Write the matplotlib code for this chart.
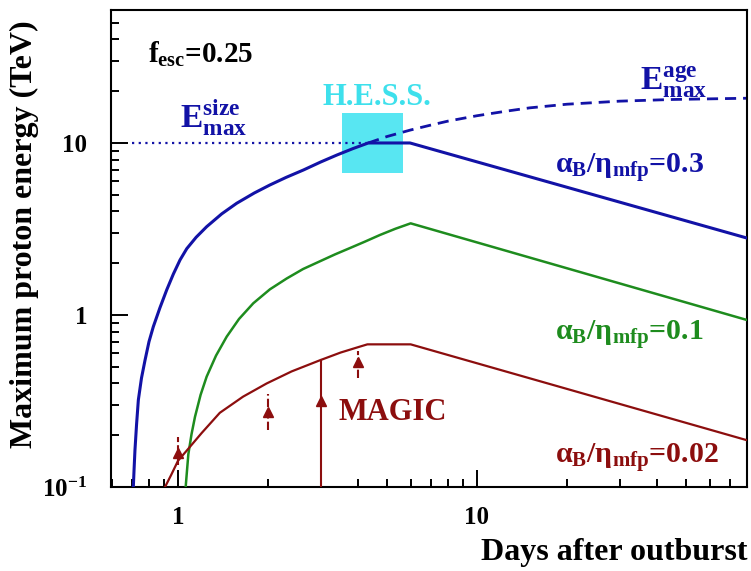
import matplotlib.pyplot as plt
from matplotlib.ticker import FixedLocator, NullFormatter

plt.rcParams['font.family'] = ['Liberation Serif', 'DejaVu Serif']
plt.rcParams['font.weight'] = 'bold'
plt.rcParams['mathtext.fontset'] = 'custom'
plt.rcParams['mathtext.rm'] = 'Liberation Serif:bold'
plt.rcParams['mathtext.it'] = 'Liberation Serif:bold'
plt.rcParams['mathtext.bf'] = 'Liberation Serif:bold'
plt.rcParams['mathtext.default'] = 'rm'

# alpha_B/eta_mfp = 0.3 (blue)
t_03 = [0.709, 0.713, 0.718, 0.727, 0.737, 0.755, 0.776, 0.80, 0.827, 0.87, 0.917, 0.965,
        1.016, 1.07, 1.15, 1.247, 1.40, 1.571, 1.80, 2.03, 2.30, 2.63, 3.00, 3.40, 3.85,
        4.33, 5.97, 80]
E_03 = [0.1, 0.126, 0.164, 0.232, 0.321, 0.43, 0.547, 0.70, 0.855, 1.10, 1.40, 1.73,
        2.09, 2.43, 2.83, 3.26, 3.87, 4.46, 5.12, 5.70, 6.31, 6.97, 7.75, 8.51, 9.28,
        10.0, 10.0, 2.8]
# alpha_B/eta_mfp = 0.1 (green)
t_01 = [1.061, 1.07, 1.083, 1.11, 1.14, 1.19, 1.247, 1.34, 1.455, 1.60, 1.786, 2.03,
        2.31, 2.62, 2.98, 3.35, 3.76, 4.22, 4.74, 5.33, 6.0, 80]
E_01 = [0.1, 0.12, 0.155, 0.203, 0.256, 0.343, 0.438, 0.58, 0.748, 0.948, 1.17, 1.41,
        1.63, 1.85, 2.05, 2.25, 2.45, 2.67, 2.92, 3.17, 3.41, 0.935]
# alpha_B/eta_mfp = 0.02 (dark red)
t_002 = [0.905, 0.95, 1.0, 1.08, 1.2, 1.38, 1.65, 1.98, 2.4, 2.98, 3.5, 4.06, 4.3, 6.0, 80]
E_002 = [0.1, 0.118, 0.142, 0.166, 0.206, 0.27, 0.335, 0.40, 0.47, 0.545, 0.605, 0.655,
         0.675, 0.675, 0.187]
# E_max^size (dotted) and E_max^age (dashed)
t_size = [0.70, 4.33]
E_size = [10.0, 10.0]
t_age = [4.33, 5.0, 6.0, 7.0, 8.0, 10.0, 12.5, 15.0, 20.0, 30.0, 45.0, 80.0]
E_age = [10.0, 10.9, 11.9, 12.7, 13.4, 14.4, 15.3, 16.0, 16.8, 17.5, 17.9, 18.2]
# H.E.S.S. box
hess_t = [3.54, 5.66]
hess_E = [6.7, 15.0]
# MAGIC lower limits
magic_t = [1, 2, 3, 4]
magic_lo = [0.135, 0.215, 0.1, 0.43]
magic_hi = [0.195, 0.345, 0.547, 0.62]
magic_head = [0.158, 0.273, 0.316, 0.533]

blue = '#1212A6'
green = '#1E8C1E'
red = '#8C0E0E'
cyan = '#58E6F2'

fig = plt.figure(figsize=(7.51, 5.71), dpi=100)
ax = fig.add_axes([0.1478, 0.1471, 0.8469, 0.8354])
ax.set_xscale('log')
ax.set_yscale('log')
ax.set_xlim(0.597, 80)
ax.set_ylim(0.1, 59.3)

ax.fill_between(hess_t, hess_E[0], hess_E[1], color=cyan, lw=0, zorder=1)
ax.plot(t_size, E_size, color=blue, lw=1.6, ls=(0, (1, 2)), zorder=2)
ax.plot(t_age, E_age, color=blue, lw=2.0, ls=(0, (4, 2.5)), zorder=2)
ax.plot(t_03, E_03, color=blue, lw=2.2, zorder=3)
ax.plot(t_01, E_01, color=green, lw=1.8, zorder=3)
ax.plot(t_002, E_002, color=red, lw=1.6, zorder=3)

for t, lo, hi, hd in zip(magic_t, magic_lo, magic_hi, magic_head):
    ls = '-' if lo <= 0.1 else (0, (4, 1.5))
    ax.plot([t, t], [lo, hi], color=red, lw=1.5, ls=ls, zorder=4)
    ax.plot(t, hd, marker='^', color=red, ms=7, zorder=4)

# ticks
ax.xaxis.set_major_locator(FixedLocator([1, 10]))
ax.xaxis.set_minor_locator(FixedLocator([0.6, 0.7, 0.8, 0.9, 2, 3, 4, 5, 6, 7, 8, 9,
                                         20, 30, 40, 50, 60, 70, 80]))
ax.set_xticklabels(['1', '10'])
ax.yaxis.set_major_locator(FixedLocator([0.1, 1, 10]))
ax.yaxis.set_minor_locator(FixedLocator([0.2, 0.3, 0.4, 0.5, 0.6, 0.7, 0.8, 0.9,
                                         2, 3, 4, 5, 6, 7, 8, 9, 20, 30, 40, 50]))
ax.set_yticklabels([r'$10^{-1}$', '1', '10'])
ax.xaxis.set_minor_formatter(NullFormatter())
ax.yaxis.set_minor_formatter(NullFormatter())
ax.tick_params(which='both', direction='in', width=1.4, labelsize=18,
               top=False, right=False)
ax.tick_params(which='major', length=12)
ax.tick_params(which='minor', length=6)
ax.tick_params(axis='y', pad=17)
ax.tick_params(axis='x', pad=14)
for s in ax.spines.values():
    s.set_linewidth(1.5)

fig.text(0.033, 0.59, 'Maximum proton energy (TeV)', rotation=90, fontsize=23,
         fontweight='bold', ha='center', va='center')
fig.text(0.9947, 0.033, 'Days after outburst', fontsize=23, fontweight='bold',
         ha='right', va='center')

ax.text(0.058, 0.889, r'$f_{esc}$=0.25', transform=ax.transAxes, fontsize=21,
        va='baseline', ha='left')
ax.text(0.1085, 0.755, r'$E_{max}^{size}$', transform=ax.transAxes, fontsize=24,
        va='baseline', ha='left', color=blue)
ax.text(0.832, 0.832, r'$E_{max}^{age}$', transform=ax.transAxes, fontsize=24,
        va='baseline', ha='left', color=blue)
ax.text(0.418, 0.801, 'H.E.S.S.', transform=ax.transAxes, fontsize=22,
        va='baseline', ha='center', color='#3EE0EC')
ax.text(0.698, 0.658, r'$α_{B}/η_{mfp}$=0.3', transform=ax.transAxes, fontsize=21.5,
        va='baseline', ha='left', color=blue)
ax.text(0.698, 0.308, r'$α_{B}/η_{mfp}$=0.1', transform=ax.transAxes, fontsize=21.5,
        va='baseline', ha='left', color=green)
ax.text(0.698, 0.050, r'$α_{B}/η_{mfp}$=0.02', transform=ax.transAxes, fontsize=21.5,
        va='baseline', ha='left', color=red)
ax.text(0.357, 0.140, 'MAGIC', transform=ax.transAxes, fontsize=22,
        va='baseline', ha='left', color=red)

fig.savefig('out.png', dpi=100)
